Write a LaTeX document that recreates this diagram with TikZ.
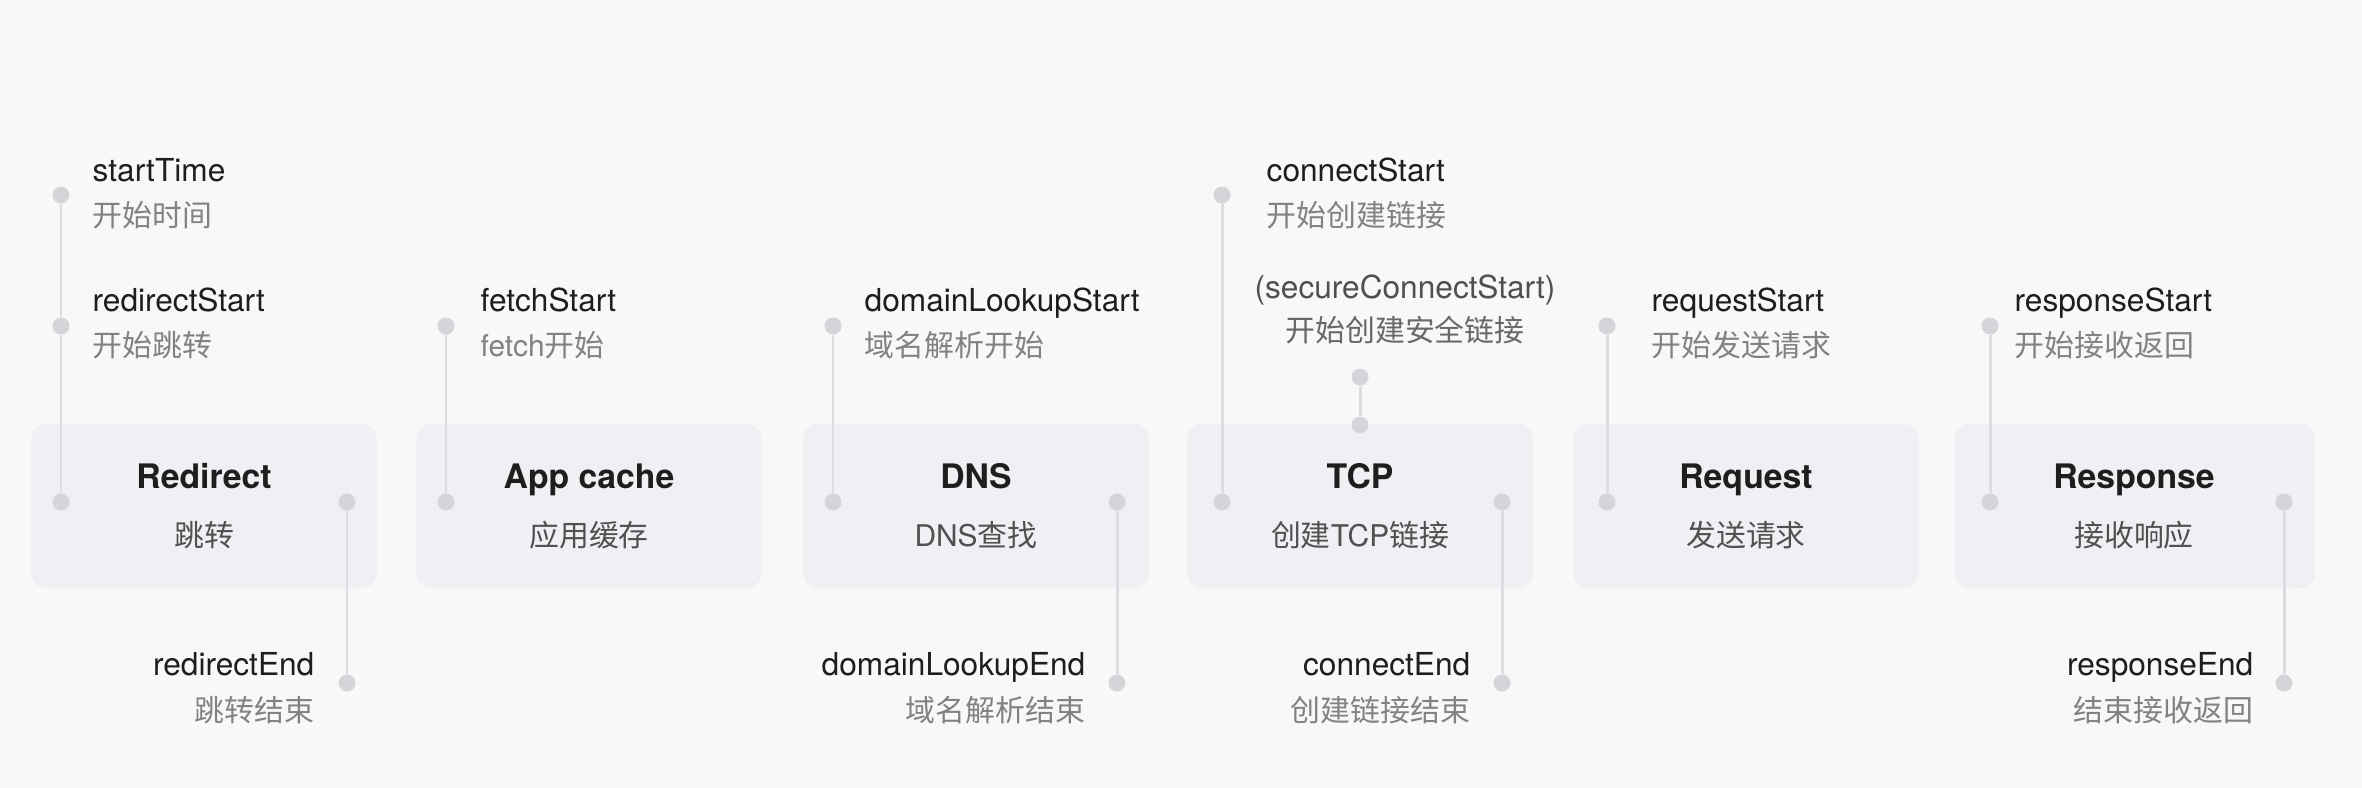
\documentclass[tikz,border=0pt]{standalone}
\usepackage{fontspec}
\setmainfont{TeX Gyre Heros}
\newfontfamily\cjk{Noto Sans CJK SC}
\usepackage{tikz}
\usetikzlibrary{positioning}
\definecolor{PageBg}{RGB}{247,248,248}
\definecolor{BoxGray}{RGB}{238,240,243}
\definecolor{DotGray}{RGB}{212,213,216}
\definecolor{LineGray}{RGB}{220,221,224}
\definecolor{InkDark}{RGB}{30,30,30}
\definecolor{InkMid}{RGB}{80,80,80}
\definecolor{InkSoft}{RGB}{130,130,130}
\tikzset{
  stagebox/.style={fill=BoxGray, rounded corners=0.15cm, minimum width=3.45cm,
    minimum height=1.64cm, inner sep=0pt},
  stagetitle/.style={font=\fontsize{9.6}{11}\selectfont\bfseries, text=InkDark, inner sep=0pt,
    text height=7pt, text depth=2pt},
  stagesub/.style={font=\fontsize{8.5}{10}\selectfont\cjk, text=InkMid, inner sep=0pt,
    text height=7pt, text depth=1.5pt},
  tdot/.style={circle, fill=DotGray, minimum size=0.17cm, inner sep=0pt},
  tline/.style={draw=LineGray, line width=0.85pt},
  evtname/.style={font=\fontsize{9}{11}\selectfont, text=InkDark, inner sep=0pt,
    text height=7pt, text depth=2pt},
  evtdesc/.style={font=\fontsize{8.5}{10}\selectfont\cjk, text=InkSoft, inner sep=0pt,
    text height=7pt, text depth=1.5pt},
}

\begin{document}
\begin{tikzpicture}[x=0.01cm, y=-0.01cm]
  \fill[PageBg] (0,0) rectangle (2362,788);
  \useasboundingbox (0,0) rectangle (2362,788);

  % stages
  \node[stagebox] (redirect) at (204,506) {};
  \node[stagebox] (appcache) at (589,506) {};
  \node[stagebox] (dns) at (976,506) {};
  \node[stagebox] (tcp) at (1360,506) {};
  \node[stagebox] (request) at (1746,506) {};
  \node[stagebox, minimum width=3.6cm] (response) at (2135,506) {};

  \node[stagetitle] (redirect-t) at (204,480) {Redirect};
  \node[stagesub] (redirect-s) at (204,537) {跳转};
  \node[stagetitle] (appcache-t) at (589,480) {App cache};
  \node[stagesub] (appcache-s) at (589,537) {应用缓存};
  \node[stagetitle] (dns-t) at (976,480) {DNS};
  \node[stagesub] (dns-s) at (976,537) {\rmfamily DNS\cjk 查找};
  \node[stagetitle] (tcp-t) at (1360,480) {TCP};
  \node[stagesub] (tcp-s) at (1360,537) {创建\rmfamily TCP\cjk 链接};
  \node[stagetitle] (request-t) at (1746,480) {Request};
  \node[stagesub] (request-s) at (1746,537) {发送请求};
  \node[stagetitle] (response-t) at (2134,480) {Response};
  \node[stagesub] (response-s) at (2134,537) {接收响应};

  % timing points
  \node[tdot] (st) at (61,195) {};
  \node[tdot] (rs) at (61,326) {};
  \node[tdot] (rl) at (61,502) {};
  \node[tdot] (rr) at (347,502) {};
  \node[tdot] (re) at (347,683) {};
  \node[tdot] (fs) at (446,326) {};
  \node[tdot] (al) at (446,502) {};
  \node[tdot] (ds) at (833,326) {};
  \node[tdot] (dl) at (833,502) {};
  \node[tdot] (dr) at (1117,502) {};
  \node[tdot] (de) at (1117,683) {};
  \node[tdot] (cs) at (1222,195) {};
  \node[tdot] (tl) at (1222,502) {};
  \node[tdot] (ss) at (1360,377) {};
  \node[tdot] (stop) at (1360,425) {};
  \node[tdot] (tr) at (1502,502) {};
  \node[tdot] (ce) at (1502,683) {};
  \node[tdot] (qs) at (1607,326) {};
  \node[tdot] (ql) at (1607,502) {};
  \node[tdot] (ps) at (1990,326) {};
  \node[tdot] (pl) at (1990,502) {};
  \node[tdot] (pr) at (2284,502) {};
  \node[tdot] (pe) at (2284,683) {};

  \draw[tline] (st) -- (rs) -- (rl);
  \draw[tline] (rr) -- (re);
  \draw[tline] (fs) -- (al);
  \draw[tline] (ds) -- (dl);
  \draw[tline] (dr) -- (de);
  \draw[tline] (cs) -- (tl);
  \draw[tline] (ss) -- (stop);
  \draw[tline] (tr) -- (ce);
  \draw[tline] (qs) -- (ql);
  \draw[tline] (ps) -- (pl);
  \draw[tline] (pr) -- (pe);

  % labels above
  \node[evtname, anchor=west] (st-n) at (92,173) {startTime};
  \node[evtdesc, anchor=west] (st-d) at (92,217) {开始时间};
  \node[evtname, anchor=west] (rs-n) at (92,303) {redirectStart};
  \node[evtdesc, anchor=west] (rs-d) at (92,347) {开始跳转};
  \node[evtname, anchor=west] (fs-n) at (480,303) {fetchStart};
  \node[evtdesc, anchor=west] (fs-d) at (480,347) {\rmfamily fetch\cjk 开始};
  \node[evtname, anchor=west] (ds-n) at (864,303) {domainLookupStart};
  \node[evtdesc, anchor=west] (ds-d) at (864,347) {域名解析开始};
  \node[evtname, anchor=west] (cs-n) at (1266,173) {connectStart};
  \node[evtdesc, anchor=west] (cs-d) at (1266,217) {开始创建链接};
  \node[evtname, text=InkMid] (ss-n) at (1405,290) {(secureConnectStart)};
  \node[evtdesc, text=InkSoft!80!black] (ss-d) at (1405,332) {开始创建安全链接};
  \node[evtname, anchor=west] (qs-n) at (1651,303) {requestStart};
  \node[evtdesc, anchor=west] (qs-d) at (1651,347) {开始发送请求};
  \node[evtname, anchor=west] (ps-n) at (2014,303) {responseStart};
  \node[evtdesc, anchor=west] (ps-d) at (2014,347) {开始接收返回};

  % labels below
  \node[evtname, anchor=east] (re-n) at (315,667) {redirectEnd};
  \node[evtdesc, anchor=east] (re-d) at (315,712) {跳转结束};
  \node[evtname, anchor=east] (de-n) at (1086,667) {domainLookupEnd};
  \node[evtdesc, anchor=east] (de-d) at (1086,712) {域名解析结束};
  \node[evtname, anchor=east] (ce-n) at (1471,667) {connectEnd};
  \node[evtdesc, anchor=east] (ce-d) at (1471,712) {创建链接结束};
  \node[evtname, anchor=east] (pe-n) at (2254,667) {responseEnd};
  \node[evtdesc, anchor=east] (pe-d) at (2254,712) {结束接收返回};
\end{tikzpicture}
\end{document}
